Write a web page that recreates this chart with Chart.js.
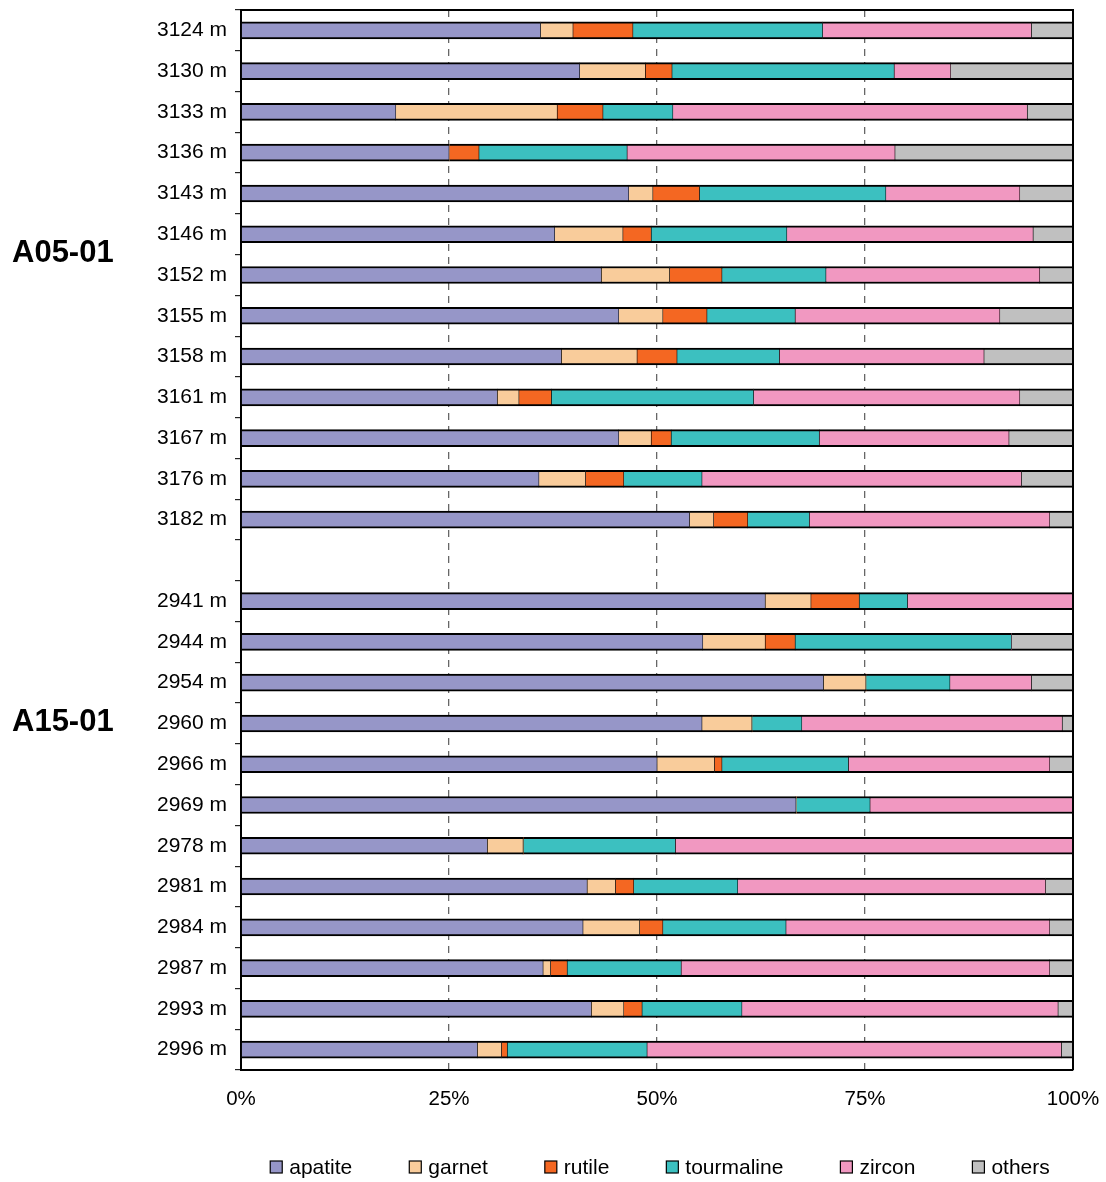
<!DOCTYPE html>
<html>
<head>
<meta charset="utf-8">
<title>Heavy mineral composition</title>
<script src="https://cdn.jsdelivr.net/npm/chart.js@4"></script>
<style>
  html, body { margin: 0; padding: 0; background: #fff; }
  #wrap { width: 1106px; height: 1182px; }
</style>
</head>
<body>
<div id="wrap"><canvas id="chart" width="1106" height="1182"></canvas></div>
<script>
// Sample depths, two wells separated by an empty row
const depths = [
  '3124 m', '3130 m', '3133 m', '3136 m', '3143 m', '3146 m', '3152 m',
  '3155 m', '3158 m', '3161 m', '3167 m', '3176 m', '3182 m',
  ' ',
  '2941 m', '2944 m', '2954 m', '2960 m', '2966 m', '2969 m', '2978 m',
  '2981 m', '2984 m', '2987 m', '2993 m', '2996 m'
];
const wells = ['A05-01', 'A15-01'];
const xTicks = [0, 25, 50, 75, 100];

// Relative abundance of each mineral (%)
const apatite    = [36.0, 40.7, 18.6, 25.0, 46.6, 37.7, 43.3, 45.4, 38.5, 30.8, 45.4, 35.8, 53.9, null, 63.0, 55.5, 70.0, 55.4, 50.0, 66.7, 29.6, 41.6, 41.1, 36.3, 42.1, 28.4];
const garnet     = [3.9, 7.9, 19.4, 0, 2.9, 8.2, 8.2, 5.3, 9.1, 2.6, 3.9, 5.6, 2.9, null, 5.5, 7.5, 5.1, 6.0, 6.9, 0, 4.3, 3.4, 6.8, 0.9, 3.9, 2.9];
const rutile     = [7.2, 3.2, 5.5, 3.6, 5.6, 3.4, 6.3, 5.3, 4.8, 3.9, 2.4, 4.6, 4.1, null, 5.8, 3.6, 0, 0, 0.9, 0, 0, 2.2, 2.8, 2.0, 2.2, 0.7];
const tourmaline = [22.8, 26.7, 8.4, 17.8, 22.4, 16.3, 12.5, 10.6, 12.3, 24.3, 17.8, 9.4, 7.4, null, 5.8, 26.0, 10.1, 6.0, 15.2, 8.9, 18.3, 12.5, 14.8, 13.7, 12.0, 16.8];
const zircon     = [25.1, 6.8, 42.6, 32.2, 16.1, 29.6, 25.7, 24.6, 24.6, 32.0, 22.8, 38.4, 28.9, null, 19.9, 0, 9.8, 31.3, 24.2, 24.4, 47.8, 37.0, 31.7, 44.3, 38.0, 49.8];
const others     = [5.0, 14.7, 5.5, 21.4, 6.4, 4.8, 4.0, 8.8, 10.7, 6.4, 7.7, 6.2, 2.8, null, 0, 7.4, 5.0, 1.3, 2.8, 0, 0, 3.3, 2.8, 2.8, 1.8, 1.4];

const FONT = "'Liberation Sans', Arial, sans-serif";

const segBorder = (c) => (c.raw === 0 ? 0 : { top: 2, bottom: 2, left: 0.6, right: 0.6 });

function series(label, data, color) {
  return {
    label, data,
    backgroundColor: color,
    borderColor: '#000',
    borderWidth: segBorder,
    borderSkipped: false,
    barThickness: 17
  };
}

// Box frame on top and right of the plot area
const framePlugin = {
  id: 'frame',
  afterDatasetsDraw(chart) {
    const { ctx, chartArea: a } = chart;
    ctx.save();
    ctx.strokeStyle = '#000';
    ctx.lineWidth = 2;
    ctx.beginPath();
    ctx.moveTo(a.left, a.top);
    ctx.lineTo(a.right, a.top);
    ctx.lineTo(a.right, a.bottom);
    ctx.stroke();
    ctx.restore();
  }
};

// Well names to the left of their sample groups
const wellLabels = {
  id: 'wellLabels',
  afterDraw(chart) {
    const { ctx } = chart;
    const y = chart.scales.y;
    ctx.save();
    ctx.font = 'bold 31px ' + FONT;
    ctx.fillStyle = '#000';
    ctx.textAlign = 'left';
    ctx.textBaseline = 'middle';
    ctx.fillText(wells[0], 12, (y.getPixelForValue(5) + y.getPixelForValue(6)) / 2 - 1);
    ctx.fillText(wells[1], 12, y.getPixelForValue(17) - 1);
    ctx.restore();
  }
};

// Single-row legend centred under the plot area
const bottomLegend = {
  id: 'bottomLegend',
  afterDraw(chart) {
    const { ctx, chartArea: a } = chart;
    const sets = chart.data.datasets;
    const box = 12, gapText = 7, gapItem = 57, yc = 1167;
    ctx.save();
    ctx.font = '21px ' + FONT;
    const widths = sets.map(d => box + gapText + ctx.measureText(d.label).width);
    const total = widths.reduce((s, w) => s + w, 0) + gapItem * (sets.length - 1);
    let x = (a.left + a.right) / 2 + 3 - total / 2;
    sets.forEach((d, i) => {
      ctx.fillStyle = d.backgroundColor;
      ctx.fillRect(x, yc - box / 2, box, box);
      ctx.strokeStyle = '#000';
      ctx.lineWidth = 1.2;
      ctx.strokeRect(x, yc - box / 2, box, box);
      ctx.fillStyle = '#000';
      ctx.textAlign = 'left';
      ctx.textBaseline = 'middle';
      ctx.fillText(d.label, x + box + gapText, yc + 1);
      x += widths[i] + gapItem;
    });
    ctx.restore();
  }
};

new Chart(document.getElementById('chart'), {
  type: 'bar',
  data: {
    labels: depths,
    datasets: [
      series('apatite', apatite, '#9696C8'),
      series('garnet', garnet, '#F9CC9B'),
      series('rutile', rutile, '#F46722'),
      series('tourmaline', tourmaline, '#3CC0C0'),
      series('zircon', zircon, '#F198C1'),
      series('others', others, '#C0C0C0')
    ]
  },
  options: {
    indexAxis: 'y',
    responsive: false,
    animation: false,
    layout: { padding: { top: 10, right: 33, bottom: 0, left: 0 } },
    scales: {
      x: {
        stacked: true,
        min: 0,
        max: 100,
        afterBuildTicks: (s) => { s.ticks = xTicks.map(v => ({ value: v })); },
        afterFit: (s) => { s.height = 112; },
        ticks: {
          callback: (v) => v + '%',
          color: '#000',
          font: { family: FONT, size: 20.5, lineHeight: 2.5 },
          padding: 4,
          maxRotation: 0
        },
        grid: {
          drawTicks: false,
          color: (c) => (c.tick && (c.tick.value === 0 || c.tick.value === 100)) ? 'rgba(0,0,0,0)' : '#666',
          lineWidth: 1.3
        },
        border: { color: '#000', width: 2, dash: [7, 6] }
      },
      y: {
        stacked: true,
        afterFit: (s) => { s.width = 241; },
        ticks: {
          autoSkip: false,
          color: '#000',
          font: { family: FONT, size: 21, lineHeight: 0.1 },
          padding: 8
        },
        grid: {
          offset: true,
          drawOnChartArea: false,
          drawTicks: true,
          tickLength: 6,
          color: '#222',
          lineWidth: 1.2
        },
        border: { color: '#000', width: 2 }
      }
    },
    plugins: {
      legend: { display: false },
      tooltip: { enabled: false }
    }
  },
  plugins: [framePlugin, wellLabels, bottomLegend]
});
</script>
</body>
</html>
